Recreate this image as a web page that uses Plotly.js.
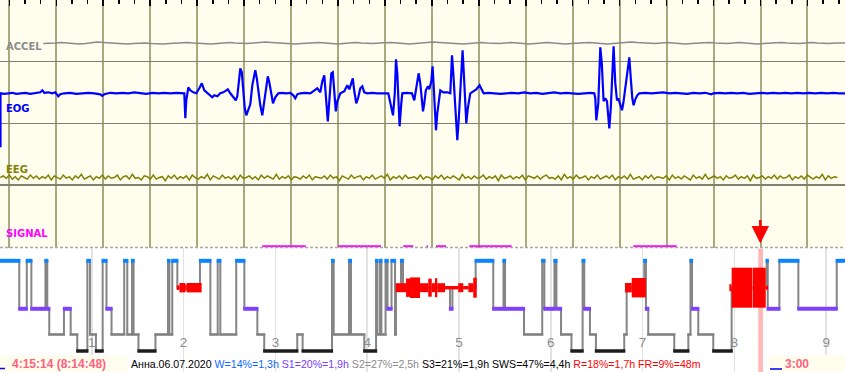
<!DOCTYPE html>
<html><head><meta charset="utf-8">
<script src="https://cdn.plot.ly/plotly-3.0.1.min.js"></script>
<style>html,body{margin:0;padding:0;background:#fff}#chart{width:845px;height:372px}</style>
</head><body><div id="chart"></div>
<script>
// ===== Epoch view (top panel). x = sample index, 46.95 samples per grid division =====
const samplesPerDiv = 46.95;
const accelStart = 34, accelStep = 6;
const accelValues = [0,0,0.5,1,0.5,0,-0.5,0,0.5,1.5,1,0.5,0,0,-0.5,0,0.5,0.5,0,-0.5,
 -0.5,0,0.5,1,1,0.5,0,-0.5,-0.5,0,0.5,1,0.5,0,0,0.5,1,1.5,1,0.5,
 0,-0.5,-0.5,0,0.5,0.5,1,0.5,0,-0.5,0,0.5,1,0.5,0,0,0.5,1,1,0.5,
 0,-0.5,0,0.5,1,1.5,1,0.5,0,-0.5,-0.5,0,0.5,1,0.5,0,0,0.5,1,0.5,
 0,-0.5,0,0.5,1,0.5,0,-0.5,0,0.5,1,1,0.5,0,-0.5,0,0.5,1,1.5,1,
 0.5,0,0,0.5,1,0.5,0,-0.5,0,0.5,0.5,1,0.5,0,0,0.5,1,0.5,0,-0.5,
 0,0.5,1,1,0.5,0,0,0.5,1,0.5,0,0,0.5,0.5,0,0,0.5,0.5,0.5,0,0.5];

const eogIdx = [-8.8,-8.8,-5,-1,3,7,11,16,21,26,31,33,35,39,43,46,49,51,55,61,67,73,79,85,91,93,95,101,107,113,119,125,131,137,143,149,155,161,167,173,175,
 176,177,179,181,184,187,190,192.5,195,198,201,203,205,208,211,214,217,218.5,221,224,226.5,228,229.5,231,232.5,234,235.5,237,239,241,243,244.5,246,247.5,249,251,253,255,257,258.5,260,262,263.7,266,269,273,277,281,284,286,288,291,
 296,301,305,308,311,313,315,317,318.5,320,322,323.5,325,326.5,328,331,335,338,340,342,343.5,345,347,349,351,353,355,358,363,368,
 371,375,379,383.7,385.5,386.7,388,389.5,390.3,392,393,397,402.7,405,407,409.3,411,412.5,413.7,415,416.5,418.7,420,422,423.3,424.5,426,426.7,428,429.5,431,434,438,441,442,442.7,444,446,448,449.5,451,453.3,454.5,456,457,458.5,461,464,467,470.3,472,474.3,479,485,491,
 497,503,509,515,521,527,533,539,545,551,557,563,569,575,581,585,586,587,589,
 591,592.5,594.3,596,597.7,599,600,601.5,603,604.3,606,607.7,609,611,612.7,614,616,618,620,621.5,623,624.3,626,628,630,
 636,642,648,654,660,666,672,678,684,690,696,702,704,710,716,722,728,734,740,746,752,758,764,770,776,782,788,794,800,806,812,818,824,830,836];
const eogAmp = [-54,0,-0.5,0,0.5,-0.5,0,0.5,-0.5,0,1,3,0.5,1,0,1,-3,-1,0,0.5,-0.5,0,0.5,0,-1,-2.5,-1,0.5,0,0.5,0,1,0,-0.5,0.5,0,0.5,0,0.5,0,0,
 -25,-7,6,3,1,0,5,10,3,0,-2,-4,-2,-3,0,1,3,4,0,-4,-7,-3,13,25,21,3,-15,-22,-17,-11,8,18,23,15,3,-12,-22,-7,9,17,11,-2,-10,-4,0,0.5,0,0.5,-2,-5,-1,0,
 0.5,0,3,5,1,12,18,-10,-28,-8,20,21,2,-18,-8,0,2,8,4,12,15,2,-10,-4,5,7,1,0,0.5,0,
 0,0.5,0,-22,0,34,20,-15,-33,-10,0,0.5,0,-7,5,20,10,-8,-18,-10,3,7,4,12,27,5,-25,-37,-20,-5,3,1,1,0,20,38,20,-15,-47,-25,5,43,20,-15,-30,-15,0,2,4,8,4,0,0.5,0,-0.5,
 0,0.5,0,1,0,0.5,-0.5,0,1,0,0.5,0,-0.5,0,0.5,0,-5,-27,-10,
 46,30,-8,-5,-8,-25,-35,-15,20,47,10,-7,-5,-12,-17,-10,5,20,36,15,-5,-12,-6,-2,0,
 0.5,0,0.5,1,0,0.5,0,-0.5,0.5,0,0.5,-1,0,0.5,0,0.5,0,0.5,-0.5,0,0.5,0,0.5,0,0.5,0,0.5,0,0.5,0,0.5,0,0.5,0,0];

const eegStart = -9, eegStep = 3;
const eegValues = [0,2,-1,3,-2,1,-3,2,0,-2,3,-1,2,-2,1,-1,3,-3,2,0,
 -2,3,-1,1,-3,2,-1,4,-2,0,2,-3,1,-1,3,-2,2,-1,0,3,
 -3,1,2,-2,4,-1,0,-3,2,1,-2,3,-2,0,1,-4,2,-1,3,-2,
 1,-1,2,-3,3,0,-2,1,-1,4,-3,2,0,-2,3,-1,1,-2,2,-3,
 3,-1,0,2,-2,1,-3,3,-1,2,0,-2,4,-2,1,-1,2,-3,1,0,
 -2,2,-1,3,-3,1,0,-1,2,-2,3,-1,1,-4,2,0,-2,3,-1,1,
 2,-3,1,-1,3,-2,0,2,-1,4,-3,1,-1,2,-2,3,-1,0,1,-2,
 3,-2,1,0,-3,2,-1,3,-2,1,-1,2,0,-3,4,-1,1,-2,2,-1,
 0,3,-2,1,-1,2,-4,3,-1,0,2,-2,1,-1,3,-3,2,0,-1,2,
 -2,1,3,-1,0,-2,2,-3,4,-1,1,-2,3,-1,0,2,-3,1,-1,3,
 -2,0,2,-1,3,-3,1,-1,2,-2,4,-2,0,1,-3,2,-1,3,-2,1,
 0,-1,2,-3,3,-1,1,-2,2,0,-3,3,-1,1,-2,4,-2,0,2,-1,
 1,-3,2,-1,0,3,-2,1,-1,2,-4,3,-1,0,2,-2,1,-1,3,-2,
 2,-1,0,3,-3,1,-1,2,-2,3,0,-2,1,-1,4,-3,2,-1,1,0];
const eegGain = 0.8;

const signalOn  = [253, 329, 394, 417.2, 426.7, 460, 624];
const signalOff = [296.4, 371.7, 404, 418.7, 436.7, 502.4, 667.4];

const channelNames = ['ACCEL','EOG','EEG','SIGNAL'];

// ===== Hypnogram (bottom panel), x = minutes from lights off =====
const hypTimes = [0,12.6,17.5,20.5,29.7,30.9,32.2,41.8,46.2,50.5,57.1,58.8,62.7,67.1,69.6,72.9,81.2,83.2,86.3,87.3,
 90.5,101.6,109.8,110.7,112.6,115.9,130.7,137.5,142.3,144.0,154.4,159.7,168.2,172.7,194.3,197.8,217.0,218.1,228.1,229.4,
 238.1,245.8,246.7,248.4,249.3,252.0,253.3,255.9,258.2,258.8,262.1,263.4,294.1,295.7,310.9,322.4,329.1,330.1,342.5,354.4,
 355.8,362.4,363.7,366.7,373.5,380.8,381.9,385.6,389.5,408.0,409.6,421.1,422.2,423.7,440.7,449.9,451.3,452.3,456.4,466.2,
 478.2,501.1,501.8,509.4,521.8,546.9,552.3];
const hypStages = ['W','S1','W','S1','W','S1','S2','S1','S2','S3','W','S2','S3','W','S1','S2','W','S2','W','S2',
 'S3','S2','W','S2','W','R','W','S2','W','S2','W','S1','S2','S3','S2','S3','W','S2','W','S2',
 'S3','W','S2','W','S2','W','S1','W','S2','R','W','R','S1','R','W','S1','W','S1','S2','W',
 'S1','W','S1','S2','S3','W','S1','S2','S3','S2','R','W','S1','S2','S3','S2','W','S1','S2','S3',
 'R','W','S1','W','S1','W'];

// REM intensity blocks
const remStart = [115.5,117.3,121.0,122.0, 258.6,265.4,268.0,274.5,279.9,282.2,284.3,285.8,290.9,299.5,302.8,306.1,309.3, 408.5,412.9, 476.7,478.2,491.9,500.5];
const remEnd   = [117.3,121.0,122.0,131.8, 265.4,268.0,274.5,279.9,282.2,284.3,285.8,290.9,299.5,302.8,306.1,309.3,311.6, 412.9,422.2, 478.2,491.6,500.5,502.0];
const remHalf  = [2.3,4.7,3.5,4.7, 4.5,9.2,10.3,4.5,9,4.5,9.5,4.5,1.7,4.5,1.7,4.5,10, 4.7,9.7, 3.5,20,20,2];

const hourLabels = ['1','2','3','4','5','6','7','8','9'];
const hourMinutes = [60,120,180,240,300,360,420,480,540];

const cursorMinutes = [495.6, 498.7];
const elapsedText = '4:15:14 (8:14:48)';
const windowText = '3:00';
const recordText = 'Анна.06.07.2020';
const statTexts  = ['W=14%=1,3h','S1=20%=1,9h','S2=27%=2,5h','S3=21%=1,9h SWS=47%=4,4h','R=18%=1,7h FR=9%=48m'];
const statColors = ['#0a6cff','#7a3cff','#8a8a8a','#000000','#ff0000'];

// ===== styles =====
const W = 845, H = 372;
const topBottomPx = 247.5;
const base = {ACCEL:43.5, EOG:93.3, EEG:177.5, SIGNAL:246.2};
const chanColor = {ACCEL:'#8c8c8c', EOG:'#0000ff', EEG:'#808000', SIGNAL:'#ff00ff'};
const labelY = {ACCEL:46.5, EOG:109, EEG:169.3, SIGNAL:233.5};
const stageY = {W:260.8, R:287.7, S1:308.8, S2:334.5, S3:351};
const stageColor = {W:'#0a84ff', S1:'#8040ff', S2:'#808080', S3:'#1c1c1c'};
const stageWidth = {W:4, S1:4, S2:2.2, S3:3.5};
const pad = 0.7;

const traces = [];
traces.push({type:'scatter', mode:'lines', xaxis:'x', yaxis:'y',
  x: accelValues.map((v,i)=>accelStart+i*accelStep), y: accelValues.map(v=>base.ACCEL-v),
  line:{color:'#8a8a8a', width:1.5}, hoverinfo:'skip'});
traces.push({type:'scatter', mode:'lines', xaxis:'x', yaxis:'y',
  x: eogIdx, y: eogAmp.map(v=>base.EOG-v), line:{color:'#0000ff', width:2.2}, hoverinfo:'skip'});
traces.push({type:'scatter', mode:'lines', xaxis:'x', yaxis:'y',
  x: eegValues.map((v,i)=>eegStart+i*eegStep), y: eegValues.map(v=>base.EEG-eegGain*v),
  line:{color:'#808000', width:1.5}, hoverinfo:'skip'});
{ const sx=[], sy=[];
  signalOn.forEach((s,i)=>{ sx.push(s, signalOff[i], null); sy.push(base.SIGNAL, base.SIGNAL, null); });
  traces.push({type:'scatter', mode:'lines', xaxis:'x', yaxis:'y', x:sx, y:sy, line:{color:'#ff00ff', width:2}, hoverinfo:'skip'}); }

// Hypnogram connectors
{ const cx=[], cy=[];
  hypStages.forEach((s,i)=>{ cx.push(hypTimes[i], hypTimes[i+1]); cy.push(stageY[s], stageY[s]); });
  traces.push({type:'scatter', mode:'lines', xaxis:'x2', yaxis:'y2', x:cx, y:cy, line:{color:'#858585', width:2}, hoverinfo:'skip'}); }
['S2','S3','S1','W'].forEach(st=>{
  const bx=[], by=[];
  hypStages.forEach((s,i)=>{ if(s===st){ bx.push(hypTimes[i]-pad, hypTimes[i+1]+pad, null); by.push(stageY[st], stageY[st], null);} });
  traces.push({type:'scatter', mode:'lines', xaxis:'x2', yaxis:'y2', x:bx, y:by, line:{color:stageColor[st], width:stageWidth[st]}, hoverinfo:'skip'});
});
// REM blocks (filled polygons, drawn above the connectors)
remStart.forEach((s,i)=>{
  const e = remEnd[i], lo = stageY.R-remHalf[i], hi = stageY.R+remHalf[i];
  traces.push({type:'scatter', mode:'lines', xaxis:'x2', yaxis:'y2', x:[s,e,e,s,s], y:[lo,lo,hi,hi,lo],
    fill:'toself', fillcolor:'#ff0000', line:{width:0, color:'#ff0000'}, hoverinfo:'skip'});
});
traces.push({type:'scatter', mode:'text', xaxis:'x2', yaxis:'y2', x:hourMinutes, y:hourMinutes.map(()=>343.3),
  text:hourLabels, textfont:{family:'Liberation Sans, Arial', size:13.5, color:'#8c8c8c'}, hoverinfo:'skip'});

const px = p => p/W, py = p => 1 - p/H;
const shapes = [
  {type:'rect', xref:'paper', yref:'paper', x0:0, x1:1, y0:py(topBottomPx), y1:1, fillcolor:'#fffdee', line:{width:0}, layer:'below'},
  {type:'line', xref:'paper', yref:'paper', x0:0, x1:1, y0:py(247.6), y1:py(247.6), line:{color:'#a8a8a8', width:1.5, dash:'3px,2px'}},
  {type:'rect', xref:'x2', yref:'y2', x0:cursorMinutes[0], x1:cursorMinutes[1], y0:372, y1:248.5, fillcolor:'#ffb8b8', line:{width:0}, layer:'below'},
  {type:'rect', xref:'paper', yref:'paper', x0:0, x1:px(127), y0:0, y1:py(355), fillcolor:'#fffdee', line:{width:0}, layer:'above'},
  {type:'rect', xref:'paper', yref:'paper', x0:px(769), x1:1, y0:0, y1:py(355), fillcolor:'#fffdee', line:{width:0}, layer:'above'},
  {type:'line', xref:'paper', yref:'paper', x0:0, x1:px(5), y0:py(368.5), y1:py(368.5), line:{color:'#0000ff', width:1.5}},
  {type:'line', xref:'paper', yref:'paper', x0:px(770), x1:px(782), y0:py(369), y1:py(369), line:{color:'#0000ff', width:1.5}}
];

const annotations = channelNames.map(n=>({xref:'paper', yref:'paper', x:px(4), y:py(labelY[n]), xanchor:'left', yanchor:'middle',
  text:'<b>'+n+'</b>', showarrow:false, font:{family:'DejaVu Sans', size:10, color:chanColor[n]}}));
annotations.push({xref:'paper', yref:'paper', x:px(760.3), y:py(243.5), ax:0, ay:-25, showarrow:true, arrowhead:2, arrowsize:1.4, arrowwidth:2.5, arrowcolor:'#ff0000', text:''});
annotations.push({xref:'paper', yref:'paper', x:px(58.5), y:py(363.5), xanchor:'center', yanchor:'middle', showarrow:false,
  text:'<b>'+elapsedText+'</b>', font:{family:'Liberation Sans, Arial', size:12, color:'#ff6080'}});
annotations.push({xref:'paper', yref:'paper', x:px(796.5), y:py(363.5), xanchor:'center', yanchor:'middle', showarrow:false,
  text:'<b>'+windowText+'</b>', font:{family:'Liberation Sans, Arial', size:12, color:'#ff6080'}});
annotations.push({xref:'paper', yref:'paper', x:px(129), y:py(363.5), xanchor:'left', yanchor:'middle', showarrow:false,
  text: recordText + ' ' + statTexts.map((t,i)=>'<span style="color:'+statColors[i]+'">'+t+'</span>').join(' '),
  font:{family:'Liberation Sans, Arial', size:10.6, color:'#000'}});

const layout = {
  width:W, height:H, margin:{l:0,r:0,t:0,b:0,pad:0}, showlegend:false,
  paper_bgcolor:'#ffffff', plot_bgcolor:'rgba(0,0,0,0)',
  xaxis:{domain:[0,1], anchor:'y', range:[-9.3, W-9.3], side:'top', ticks:'inside', ticklen:6, tickwidth:1.5, tickcolor:'#000',
    tick0:0, dtick:samplesPerDiv, showticklabels:false, showgrid:true, gridcolor:'#a9a97e', gridwidth:2, zeroline:false, showline:false,
    minor:{tick0:0, dtick:samplesPerDiv/3, ticks:'inside', ticklen:3.5, tickwidth:1.5, tickcolor:'#000', showgrid:false}},
  yaxis:{domain:[py(topBottomPx),1], anchor:'x', range:[topBottomPx,0], tickvals:[61.5,123.3,185], showticklabels:false, ticks:'',
    showgrid:true, gridcolor:'#80806f', gridwidth:1.5, zeroline:false},
  xaxis2:{domain:[0,1], anchor:'y2', range:[0,552.3], tickvals:hourMinutes, showticklabels:false, ticks:'',
    showgrid:true, gridcolor:'#e2e2e2', gridwidth:1.5, zeroline:false},
  yaxis2:{domain:[0,py(248)], anchor:'x2', range:[372,248], showgrid:false, showticklabels:false, zeroline:false, ticks:''},
  shapes, annotations
};
Plotly.newPlot('chart', traces, layout, {staticPlot:true, displayModeBar:false});
</script></body></html>
